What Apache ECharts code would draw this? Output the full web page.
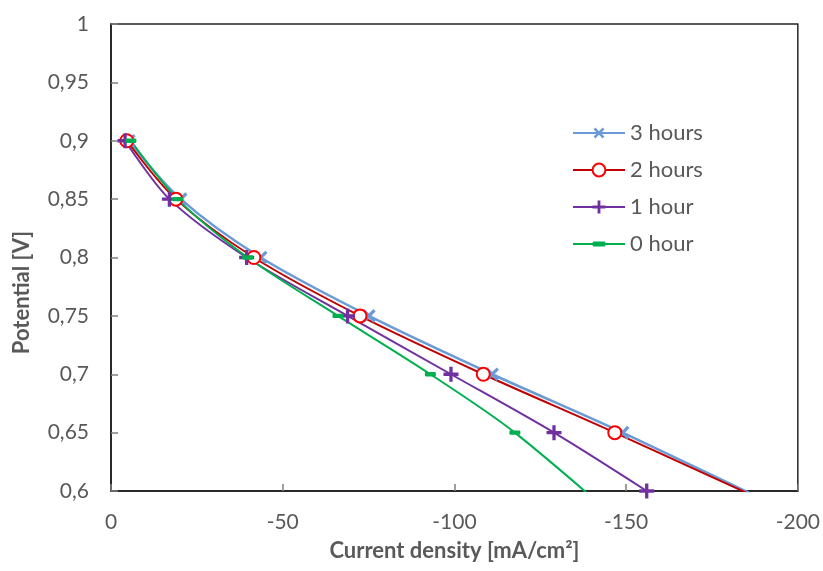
<!DOCTYPE html>
<html>
<head>
<meta charset="utf-8">
<script src="https://cdn.jsdelivr.net/npm/echarts@6/dist/echarts.min.js"></script>
<style>
  html, body { margin: 0; padding: 0; background: #fff; }
  #chart { width: 823px; height: 571px; }
</style>
</head>
<body>
<div id="chart"></div>
<script>
// potential [V] per point; the 3h, 2h and 0h runs continue below the 0,6 edge
const potentialLong = [0.9, 0.85, 0.8, 0.75, 0.7, 0.65, 0.55];
const potential1h = [0.9, 0.85, 0.8, 0.75, 0.7, 0.65, 0.6];

// current density [mA/cm2]
const current3h = [-5.2, -20.3, -43.6, -75.1, -111, -149, -220];
const current2h = [-4.6, -18.9, -41.6, -72.5, -108.4, -146.7, -221];
const current1h = [-4.1, -17, -39.5, -68.9, -99, -129, -156];
const current0h = [-5.8, -19.4, -39.8, -66.1, -93, -117.6, -157.4];

const seriesNames = ['3 hours', '2 hours', '1 hour', '0 hour'];
const xTicks = [0, -50, -100, -150, -200];

const FONT = 'Lato';
const PLUS = 'path://M3.9,0H6.1V3.9H10V6.1H6.1V10H3.9V6.1H0V3.9H3.9Z';
const CROSS = 'path://M4,0H6V4H10V6H6V10H4V6H0V4H4Z';
// short bar, padded with empty sub-paths so it stays flat in a square box
const DASH = 'path://M0,-3L0.01,-3ZM1,0H9Q10,0 10,1V3Q10,4 9,4H1Q0,4 0,3V1Q0,0 1,0ZM0,7L0.01,7Z';

function pairs(xs, ys) {
  return xs.map((x, i) => [x, ys[i]]);
}

function fmtComma(v) {
  return String(+v.toFixed(2)).replace('.', ',');
}

const chart = echarts.init(document.getElementById('chart'));

const option = {
  animation: false,
  textStyle: { fontFamily: FONT },
  grid: {
    left: 111, right: 25, top: 24, bottom: 80,
    show: true, borderColor: '#262626', borderWidth: 1.5
  },
  legend: {
    orient: 'vertical',
    left: 567, top: 117,
    itemWidth: 52, itemHeight: 16, itemGap: 15,
    textStyle: { color: '#595959', fontSize: 22, fontFamily: FONT },
    data: seriesNames
  },
  xAxis: {
    type: 'value',
    min: -200, max: 0, interval: 50,
    inverse: true,
    name: 'Current density [mA/cm²]',
    nameLocation: 'middle',
    nameGap: 49,
    nameTextStyle: { color: '#595959', fontSize: 22, fontWeight: 'bold', fontFamily: FONT },
    axisLine: { lineStyle: { color: '#1a1a1a', width: 1.5 } },
    axisTick: { inside: true, length: 7, lineStyle: { color: '#808080', width: 1.5 } },
    axisLabel: {
      color: '#595959', fontSize: 21, margin: 21, fontFamily: FONT,
      formatter: v => (xTicks.indexOf(v) > -1 ? String(v) : '')
    },
    splitLine: { show: false }
  },
  yAxis: {
    type: 'value',
    min: 0.6, max: 1, interval: 0.05,
    name: 'Potential [V]',
    nameLocation: 'middle',
    nameGap: 78,
    nameTextStyle: { color: '#595959', fontSize: 22, fontWeight: 'bold', fontFamily: FONT, padding: [0, 70, 0, 0] },
    axisLine: { lineStyle: { color: '#1a1a1a', width: 1.5 } },
    axisTick: { inside: true, length: 7, lineStyle: { color: '#808080', width: 1.5 } },
    axisLabel: { color: '#595959', fontSize: 21, margin: 22, fontFamily: FONT, formatter: fmtComma },
    splitLine: { show: false }
  },
  series: [
    {
      name: '3 hours', type: 'line', smooth: 0.3,
      data: pairs(current3h, potentialLong),
      symbol: CROSS, symbolRotate: 45, symbolSize: 16, symbolKeepAspect: true,
      itemStyle: { color: '#6A9BD6' },
      lineStyle: { color: '#6A9BD6', width: 2.5 }
    },
    {
      name: '2 hours', type: 'line', smooth: 0.3,
      data: pairs(current2h, potentialLong),
      symbol: 'emptyCircle', symbolSize: 13,
      itemStyle: { color: '#FF0000', borderWidth: 3 },
      lineStyle: { color: '#C00000', width: 2 }
    },
    {
      name: '1 hour', type: 'line', smooth: 0.3,
      data: pairs(current1h, potential1h),
      symbol: PLUS, symbolSize: 15, symbolKeepAspect: true,
      itemStyle: { color: '#7030A0' },
      lineStyle: { color: '#7030A0', width: 2 }
    },
    {
      name: '0 hour', type: 'line', smooth: 0.3,
      data: pairs(current0h, potentialLong),
      symbol: DASH, symbolSize: 11,
      itemStyle: { color: '#00B050' },
      lineStyle: { color: '#00B050', width: 2 }
    }
  ]
};

chart.setOption(option);
window.addEventListener('resize', () => chart.resize(), false);
</script>
</body>
</html>
